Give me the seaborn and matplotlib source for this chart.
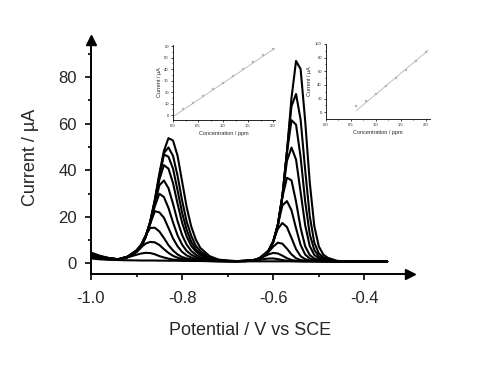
import pandas as pd
import seaborn as sns
import matplotlib.pyplot as plt

# potential grid (V vs SCE), shared by all voltammograms
potential = [-1.00, -0.98, -0.96, -0.94, -0.92, -0.90, -0.89, -0.88, -0.87, -0.86,
             -0.85, -0.84, -0.83, -0.82, -0.81, -0.80, -0.79, -0.78, -0.77, -0.76,
             -0.74, -0.72, -0.70, -0.68, -0.66, -0.64, -0.63, -0.62, -0.61, -0.60,
             -0.59, -0.58, -0.57, -0.56, -0.55, -0.54, -0.53, -0.52, -0.51, -0.50,
             -0.49, -0.48, -0.46, -0.43, -0.40, -0.37, -0.35]

# current (uA) of each scan, blank first
curve_0 = [2.1, 1.7, 1.5, 1.4, 1.3, 1.25, 1.2, 1.2, 1.2, 1.2,
           1.15, 1.15, 1.1, 1.1, 1.1, 1.05, 1.05, 1.0, 1.0, 1.0,
           0.95, 0.9, 0.9, 0.9, 0.85, 0.85, 0.85, 0.85, 0.85, 0.85,
           0.85, 0.85, 0.85, 0.85, 0.85, 0.85, 0.85, 0.85, 0.85, 0.85,
           0.85, 0.85, 0.8, 0.8, 0.75, 0.7, 0.7]
curve_1 = [2.4, 2.0, 1.7, 1.6, 2.5, 3.7, 4.2, 4.5, 4.4, 3.9,
           3.1, 2.5, 2.0, 1.6, 1.4, 1.3, 1.2, 1.1, 1.0, 1.0,
           0.95, 0.92, 0.9, 0.88, 0.96, 1.2, 1.47, 1.81, 2.05, 2.07,
           1.8, 1.41, 1.11, 0.96, 0.9, 0.85, 0.85, 0.85, 0.85, 0.85,
           0.85, 0.85, 0.8, 0.78, 0.75, 0.72, 0.7]
curve_2 = [2.6, 2.1, 1.8, 1.7, 2.6, 5.0, 6.9, 8.5, 9.2, 9.0,
           7.9, 6.1, 4.5, 3.2, 2.4, 1.9, 1.6, 1.3, 1.2, 1.1,
           1.0, 0.92, 0.9, 0.93, 1.06, 1.53, 1.9, 2.94, 3.89, 4.45,
           4.24, 3.29, 2.19, 1.44, 1.1, 0.96, 0.91, 0.88, 0.85, 0.85,
           0.85, 0.85, 0.8, 0.78, 0.75, 0.72, 0.7]
curve_3 = [2.9, 2.3, 2.0, 1.8, 2.9, 5.6, 8.0, 12.0, 15.2, 15.3,
           13.7, 10.9, 7.8, 5.5, 3.8, 2.7, 2.1, 1.7, 1.4, 1.2,
           1.0, 0.92, 0.9, 0.93, 1.1, 1.45, 2.1, 3.3, 5.0, 7.2,
           8.88, 8.43, 6.29, 3.85, 2.17, 1.4, 1.1, 0.98, 0.91, 0.85,
           0.85, 0.85, 0.8, 0.78, 0.75, 0.72, 0.7]
curve_4 = [3.1, 2.4, 2.0, 1.75, 2.8, 5.5, 7.8, 11.8, 17.0, 22.4,
           21.9, 19.6, 15.2, 10.7, 7.3, 4.9, 3.4, 2.5, 1.9, 1.5,
           1.1, 0.98, 0.9, 0.93, 1.14, 1.5, 2.3, 4.0, 5.6, 9.6,
           14.8, 17.32, 15.58, 10.88, 6.08, 3.07, 1.78, 1.3, 1.07, 0.95,
           0.85, 0.85, 0.8, 0.78, 0.75, 0.72, 0.7]
curve_5 = [3.4, 2.5, 2.05, 1.75, 2.8, 5.4, 7.7, 11.7, 17.3, 24.5,
           29.9, 28.5, 23.8, 17.6, 12.0, 8.0, 5.3, 3.7, 2.7, 1.9,
           1.27, 1.04, 0.93, 0.91, 1.09, 1.5, 2.25, 3.4, 5.5, 9.5,
           16.5, 24.87, 26.74, 22.78, 15.02, 7.88, 3.77, 2.07, 1.48, 1.14,
           0.98, 0.85, 0.8, 0.78, 0.75, 0.72, 0.7]
curve_6 = [3.6, 2.6, 2.05, 1.7, 2.75, 5.3, 7.6, 11.6, 17.5, 25.5,
           33.5, 35.6, 32.3, 25.6, 18.1, 12.1, 8.0, 5.3, 3.7, 2.6,
           1.51, 1.11, 0.95, 0.9, 1.08, 1.45, 2.25, 3.3, 5.5, 9.4,
           16.6, 28.5, 36.77, 35.67, 26.47, 15.29, 7.3, 3.56, 2.06, 1.47,
           1.14, 0.96, 0.8, 0.78, 0.75, 0.72, 0.7]
curve_7 = [3.9, 2.8, 2.1, 1.7, 2.7, 5.2, 7.5, 11.5, 17.6, 26.0,
           36.0, 42.2, 40.7, 34.5, 25.6, 17.4, 11.5, 7.5, 5.1, 3.5,
           1.78, 1.2, 0.98, 0.88, 1.01, 1.45, 2.2, 3.25, 5.45, 9.3,
           16.5, 28.9, 44.0, 49.75, 44.59, 30.63, 16.38, 7.44, 3.6, 2.18,
           1.49, 1.14, 0.85, 0.78, 0.75, 0.72, 0.7]
curve_8 = [4.1, 2.9, 2.1, 1.7, 2.7, 5.1, 7.3, 11.4, 17.7, 26.5,
           37.0, 46.8, 45.8, 40.7, 31.3, 21.7, 14.3, 9.3, 6.0, 4.2,
           2.05, 1.29, 1.04, 0.88, 0.98, 1.4, 2.15, 3.2, 5.45, 9.25,
           16.4, 29.0, 47.5, 61.5, 59.6, 45.64, 26.62, 12.51, 5.76, 3.0,
           1.95, 1.34, 0.86, 0.78, 0.75, 0.72, 0.7]
curve_9 = [4.3, 3.0, 2.2, 1.7, 2.65, 5.0, 7.1, 11.3, 17.8, 26.9,
           37.8, 47.4, 49.8, 46.2, 37.6, 26.9, 17.9, 11.8, 7.5, 5.2,
           2.37, 1.39, 1.1, 0.93, 0.93, 1.4, 2.1, 3.2, 5.45, 9.2,
           16.2, 28.8, 48.0, 67.56, 72.77, 61.77, 40.21, 20.38, 8.95, 4.25,
           2.59, 1.65, 0.94, 0.78, 0.75, 0.72, 0.7]
curve_10 = [4.6, 3.2, 2.25, 1.7, 2.6, 4.9, 6.9, 11.3, 18.0, 27.3,
            38.5, 48.3, 53.8, 52.8, 46.2, 35.1, 24.1, 15.8, 10.2, 6.6,
            3.1, 1.6, 1.16, 0.96, 0.9, 1.37, 2.06, 3.18, 5.43, 9.15,
            16.07, 28.51, 48.05, 71.05, 87.0, 83.5, 61.28, 34.91, 16.07, 7.25,
            3.7, 2.32, 1.06, 0.78, 0.75, 0.72, 0.7]

# calibration insets
conc_1 = [0.2, 0.4, 0.6, 0.8, 1.0, 1.2, 1.4, 1.6, 1.8, 2.0]
peak_1 = [5.0, 10.5, 16.5, 22.5, 28.0, 34.0, 40.0, 46.0, 52.0, 57.5]
fit_x_1 = [0.0, 2.05]
fit_y_1 = [-1.5, 58.5]

conc_2 = [0.6, 0.8, 1.0, 1.2, 1.4, 1.6, 1.8, 2.0]
peak_2 = [9.0, 17.0, 27.0, 39.0, 50.0, 62.0, 75.0, 88.0]
fit_x_2 = [0.6, 2.05]
fit_y_2 = [2.0, 91.0]

curves = [curve_0, curve_1, curve_2, curve_3, curve_4, curve_5,
          curve_6, curve_7, curve_8, curve_9, curve_10]


def style_axes(ax, lw, tick_len):
    sns.despine(ax=ax)
    for side in ("left", "bottom"):
        ax.spines[side].set_linewidth(lw)
        ax.spines[side].set_color("black")
    ax.tick_params(which="major", direction="out", length=tick_len, width=lw)
    ax.tick_params(which="minor", direction="out", length=tick_len * 0.6, width=lw)


if __name__ == '__main__':
    sns.set_style("ticks")
    plt.rcParams['font.family'] = ['Liberation Sans', 'DejaVu Sans']
    plt.rcParams['axes.unicode_minus'] = False

    frames = []
    for n, cur in enumerate(curves):
        frames.append(pd.DataFrame({"potential": potential, "current": cur,
                                    "scan": "s%d" % n}))
    dpv = pd.concat(frames, ignore_index=True)
    palette = {"s%d" % n: "black" for n in range(len(curves))}

    fig = plt.figure(figsize=(4.94, 3.77), dpi=100)
    ax = fig.add_axes([0.1842, 0.2732, 0.6457, 0.6207])
    sns.lineplot(data=dpv, x="potential", y="current", hue="scan",
                 palette=palette, legend=False, sort=False,
                 linewidth=1.5, ax=ax)
    ax.set_xlim(-1.0, -0.30)
    ax.set_ylim(-4.6, 96)
    ax.set_xticks([-1.0, -0.8, -0.6, -0.4])
    ax.set_xticklabels(["-1.0", "-0.8", "-0.6", "-0.4"])
    ax.set_xticks([-0.9, -0.7, -0.5], minor=True)
    ax.set_yticks([0, 20, 40, 60, 80])
    ax.set_yticks([10, 30, 50, 70, 90], minor=True)
    style_axes(ax, 1.4, 4)
    ax.tick_params(labelsize=12)
    ax.tick_params(axis="x", pad=8)
    ax.tick_params(axis="y", pad=6)
    ax.set_xlabel("Potential / V vs SCE", fontsize=13, labelpad=12)
    ax.set_ylabel("Current / \u00b5A", fontsize=13, labelpad=14)
    ax.plot(1, 0, ">", color="black", markersize=7, transform=ax.transAxes, clip_on=False)
    ax.plot(0, 1, "^", color="black", markersize=7, transform=ax.transAxes, clip_on=False)

    # inset 1: first peak calibration
    ax1 = fig.add_axes([0.3502, 0.6817, 0.2065, 0.1989])
    ax1.patch.set_alpha(0)
    sns.lineplot(x=fit_x_1, y=fit_y_1, color="#b5b5b5", linewidth=0.6, ax=ax1)
    sns.scatterplot(x=conc_1, y=peak_1, color="#b5b5b5", s=3, marker="s",
                    edgecolor=None, ax=ax1)
    ax1.set_xlim(0, 2.04)
    ax1.set_ylim(-4.3, 61)
    ax1.set_xticks([0.0, 0.5, 1.0, 1.5, 2.0])
    ax1.set_xticks([0.25, 0.75, 1.25, 1.75], minor=True)
    ax1.set_yticks([0, 10, 20, 30, 40, 50, 60])
    ax1.set_yticks([5, 15, 25, 35, 45, 55], minor=True)
    style_axes(ax1, 0.6, 1.5)
    ax1.tick_params(labelsize=3, pad=1.5)
    ax1.set_xlabel("Concentration / ppm", fontsize=4, labelpad=2)
    ax1.set_ylabel("Current / \u00b5A", fontsize=4, labelpad=2)

    # inset 2: second peak calibration
    ax2 = fig.add_axes([0.6599, 0.6844, 0.2105, 0.1989])
    ax2.patch.set_alpha(0)
    sns.lineplot(x=fit_x_2, y=fit_y_2, color="#b5b5b5", linewidth=0.6, ax=ax2)
    sns.scatterplot(x=conc_2, y=peak_2, color="#b5b5b5", s=3, marker="s",
                    edgecolor=None, ax=ax2)
    ax2.set_xlim(0, 2.08)
    ax2.set_ylim(-9.8, 100)
    ax2.set_xticks([0.0, 0.5, 1.0, 1.5, 2.0])
    ax2.set_xticks([0.25, 0.75, 1.25, 1.75], minor=True)
    ax2.set_yticks([0, 20, 40, 60, 80, 100])
    ax2.set_yticks([10, 30, 50, 70, 90], minor=True)
    style_axes(ax2, 0.6, 1.5)
    ax2.tick_params(labelsize=3, pad=1.5)
    ax2.set_xlabel("Concentration / ppm", fontsize=4, labelpad=2)
    ax2.set_ylabel("Current / \u00b5A", fontsize=4, labelpad=2)

    fig.savefig("out.png", dpi=100)
